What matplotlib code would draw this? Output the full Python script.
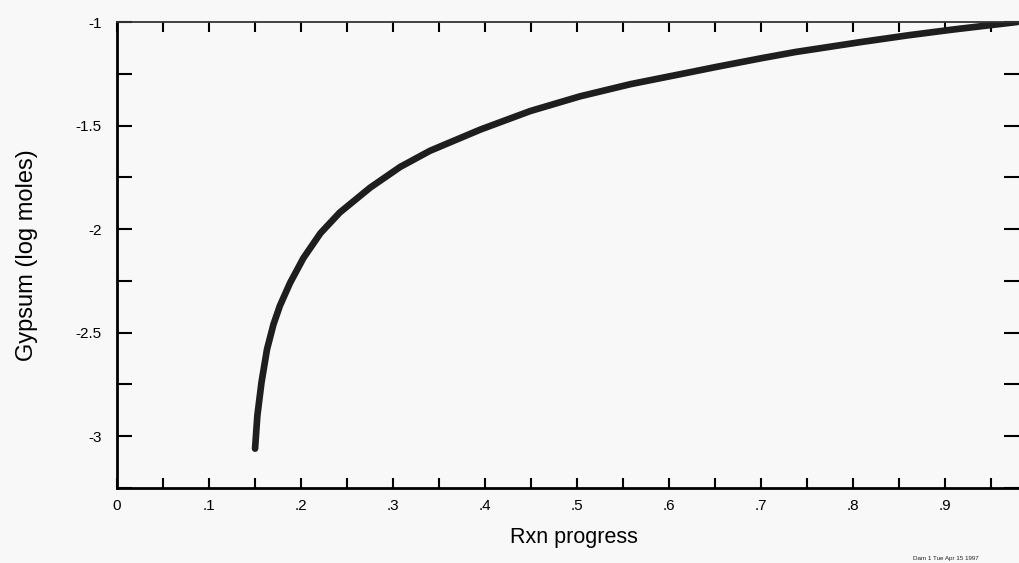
import matplotlib.pyplot as plt
import numpy as np

plt.rcParams['font.family'] = ['Liberation Sans', 'DejaVu Sans']

# curve
rxn = [0.150, 0.1525, 0.157, 0.163, 0.170, 0.177, 0.188, 0.2025, 0.221, 0.242,
       0.275, 0.3076, 0.340, 0.395, 0.449, 0.503, 0.558, 0.612, 0.651,
       0.70, 0.737, 0.808, 0.86, 0.909, 0.978]
gypsum = [-3.06, -2.90, -2.74, -2.58, -2.46, -2.37, -2.26, -2.14, -2.02, -1.92,
          -1.80, -1.70, -1.622, -1.519, -1.43, -1.359, -1.300, -1.252, -1.217,
          -1.175, -1.145, -1.097, -1.064, -1.036, -1.0]

xticks = [0, 0.1, 0.2, 0.3, 0.4, 0.5, 0.6, 0.7, 0.8, 0.9]
xlabels = ['0', '.1', '.2', '.3', '.4', '.5', '.6', '.7', '.8', '.9']
yticks = [-3, -2.5, -2, -1.5, -1]
ylabels = ['-3', '-2.5', '-2', '-1.5', '-1']

bg = '#f8f8f8'
fig = plt.figure(figsize=(10.2, 5.63), dpi=100, facecolor=bg)
ax = fig.add_axes([117/1020, 75/563, 902/1020, 466/563], facecolor=bg)

ax.plot(rxn, gypsum, color='#1e1e1e', lw=4.8, solid_capstyle='round',
        solid_joinstyle='round')

ax.set_xlim(0, 0.98)
ax.set_ylim(-3.24, -1)

ax.set_xticks(xticks)
ax.set_xticklabels(xlabels)
ax.set_xticks(np.arange(0.05, 0.98, 0.1), minor=True)
ax.set_yticks(yticks)
ax.set_yticklabels(ylabels)
ax.set_yticks([-3.25, -2.75, -2.25, -1.75, -1.25], minor=True)

ax.tick_params(which='both', direction='in', top=True, right=True,
               width=1.5, labelsize=11)
ax.tick_params(axis='x', which='both', length=7, pad=8)
ax.tick_params(axis='y', which='both', length=11, pad=11)

for s in ['left', 'bottom']:
    ax.spines[s].set_linewidth(2)
ax.spines['top'].set_linewidth(1.3)
ax.spines['top'].set_color('#333333')
ax.spines['right'].set_visible(False)

fig.text(574/1020, 1 - 538/563, 'Rxn progress', fontsize=15.5,
         ha='center', va='center')
fig.text(27/1020, 1 - 255/563, 'Gypsum (log moles)', fontsize=17,
         rotation=90, ha='center', va='center')

fig.text(0.895, 0.005, 'Dam 1 Tue Apr 15 1997', fontsize=4.5, color='#222222')

fig.savefig('out.png', dpi=100, facecolor=bg)
